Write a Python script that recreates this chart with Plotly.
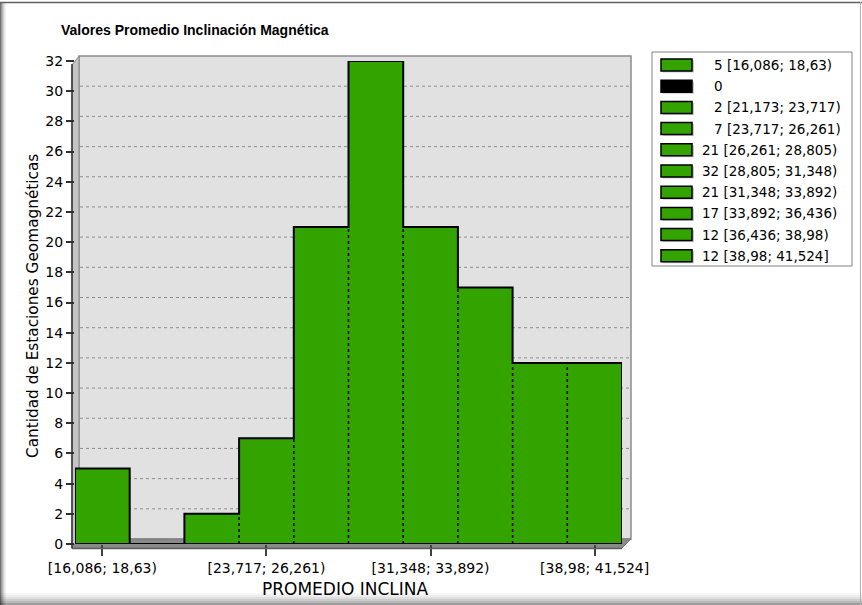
import plotly.graph_objects as go

# ---- data -------------------------------------------------------------
counts = [5, 0, 2, 7, 21, 32, 21, 17, 12, 12]
bin_labels = [
    "[16,086; 18,63)",
    "",
    "[21,173; 23,717)",
    "[23,717; 26,261)",
    "[26,261; 28,805)",
    "[28,805; 31,348)",
    "[31,348; 33,892)",
    "[33,892; 36,436)",
    "[36,436; 38,98)",
    "[38,98; 41,524]",
]
x_tick_bins = [0, 3, 6, 9]
x_tick_labels = ["[16,086; 18,63)", "[23,717; 26,261)", "[31,348; 33,892)", "[38,98; 41,524]"]
y_ticks = list(range(0, 33, 2))

title_text = "Valores Promedio Inclinación Magnética"
x_title = "PROMEDIO INCLINA"
y_title = "Cantidad de Estaciones Geomagnéticas"

# ---- styling ----------------------------------------------------------
W, H = 862, 605
PL, PR, PT, PB = 75, 622, 61, 544          # plot area in pixels
GREEN = "#33a300"
WALL = "#e1e1e1"
FONT = "DejaVu Sans, Verdana, sans-serif"
TITLE_FONT = "Liberation Sans, Arial, sans-serif"
Y_MAX = 32


def px(x):
    return (x - PL) / (PR - PL)


def py(y):
    return (PB - y) / (PB - PT)


n = len(counts)
centers = [i + 0.5 for i in range(n)]
colors = [GREEN if c > 0 else "black" for c in counts]

fig = go.Figure()

# bars (fill only; outlines drawn separately)
fig.add_trace(go.Bar(
    x=centers, y=counts, width=1,
    marker=dict(color=colors, line=dict(width=0)),
    hoverinfo="x+y", showlegend=False,
))

# histogram silhouette
sx, sy = [0], [0]
for i, c in enumerate(counts):
    sx += [i, i + 1]
    sy += [c, c]
sx += [n, 0]
sy += [0, 0]
fig.add_trace(go.Scatter(
    x=sx, y=sy, mode="lines", line=dict(color="black", width=2),
    hoverinfo="skip", showlegend=False, cliponaxis=False,
))

# dotted separators where neighbouring bars touch
dx, dy = [], []
for i in range(1, n):
    h = min(counts[i - 1], counts[i])
    if h > 0:
        dx += [i, i, None]
        dy += [0, h, None]
fig.add_trace(go.Scatter(
    x=dx, y=dy, mode="lines", line=dict(color="black", width=1.5, dash="dot"),
    hoverinfo="skip", showlegend=False,
))

shapes = []

# outer frame with soft shadow on left and bottom
for k, op in enumerate([0.55, 0.4, 0.28, 0.18, 0.1, 0.05]):
    shapes.append(dict(type="rect", xref="paper", yref="paper",
                       x0=px(k), x1=px(k + 1), y0=py(2), y1=py(605),
                       fillcolor="black", opacity=op, line=dict(width=0), layer="below"))
    shapes.append(dict(type="rect", xref="paper", yref="paper",
                       x0=px(0), x1=px(862), y0=py(605 - k * 2), y1=py(603 - k * 2),
                       fillcolor="black", opacity=op * 0.7, line=dict(width=0), layer="below"))
shapes.append(dict(type="line", xref="paper", yref="paper",
                   x0=px(0), x1=px(862), y0=py(2.5), y1=py(2.5),
                   line=dict(color="#606060", width=1.5), layer="below"))
shapes.append(dict(type="line", xref="paper", yref="paper",
                   x0=px(860.5), x1=px(860.5), y0=py(2), y1=py(605),
                   line=dict(color="#b0b0b0", width=1), layer="below"))

# back wall
WX0, WX1, WY0, WY1 = 79, 631, 539, 56
shapes.append(dict(type="rect", xref="paper", yref="paper",
                   x0=px(WX0), x1=px(WX1), y0=py(WY0), y1=py(WY1),
                   fillcolor=WALL, line=dict(color="#8c8c8c", width=1.5), layer="below"))
# side wall
shapes.append(dict(type="path", xref="paper", yref="paper",
                   path=f"M{px(72)},{py(548)} L{px(72)},{py(65)} L{px(WX0)},{py(WY1)} L{px(WX0)},{py(WY0)} Z",
                   fillcolor="#c4c4c4", line=dict(color="#8c8c8c", width=1), layer="below"))
# floor
shapes.append(dict(type="path", xref="paper", yref="paper",
                   path=f"M{px(72)},{py(548)} L{px(WX0)},{py(WY0)} L{px(WX1)},{py(WY0)} L{px(PR)},{py(548)} Z",
                   fillcolor="#8a8a8a", line=dict(color="#7a7a7a", width=1), layer="below"))

# wall gridlines (back plane, shifted by the depth offset)
for v in y_ticks[1:-1]:
    yy = py(PB - v * (PB - PT) / Y_MAX - 5)
    shapes.append(dict(type="line", xref="paper", yref="paper",
                       x0=px(WX0 + 1), x1=px(WX1 - 1), y0=yy, y1=yy,
                       line=dict(color="#8c8c8c", width=1, dash="dot"), layer="below"))

# front axis lines
shapes.append(dict(type="line", xref="paper", yref="paper",
                   x0=px(72), x1=px(72), y0=py(64), y1=py(548.5),
                   line=dict(color="#303030", width=1.5)))
shapes.append(dict(type="line", xref="paper", yref="paper",
                   x0=px(72), x1=px(PR), y0=py(548.5), y1=py(548.5),
                   line=dict(color="#606060", width=1.5)))

annotations = []

# legend box
LX0, LX1, LY0, LY1 = 652, 852, 52, 266
shapes.append(dict(type="rect", xref="paper", yref="paper",
                   x0=px(LX0), x1=px(LX1), y0=py(LY1), y1=py(LY0),
                   fillcolor="white", line=dict(color="#808080", width=1)))
ROW0, ROWSTEP = 65, 21.2
for i, c in enumerate(counts):
    cy = ROW0 + i * ROWSTEP
    shapes.append(dict(type="rect", xref="paper", yref="paper",
                       x0=px(663), x1=px(694), y0=py(cy + 7.5), y1=py(cy - 4.5),
                       fillcolor="#c8c8c8", line=dict(width=0)))
    shapes.append(dict(type="rect", xref="paper", yref="paper",
                       x0=px(661), x1=px(692), y0=py(cy + 6), y1=py(cy - 6),
                       fillcolor=colors[i], line=dict(color="black", width=1.5)))
    label = f"{c} {bin_labels[i]}".strip() if c > 0 else str(c)
    annotations.append(dict(
        x=px(712 if c < 10 else 700), y=py(cy), xref="paper", yref="paper",
        xanchor="left", yanchor="middle", showarrow=False, text=label,
        font=dict(family=FONT, size=13.5, color="black"),
    ))

# titles
annotations.append(dict(x=px(195), y=py(30), xref="paper", yref="paper",
                        xanchor="center", yanchor="middle", showarrow=False,
                        text=f"<b>{title_text}</b>",
                        font=dict(family=TITLE_FONT, size=14, color="black")))
annotations.append(dict(x=px(345), y=py(589), xref="paper", yref="paper",
                        xanchor="center", yanchor="middle", showarrow=False,
                        text=x_title, font=dict(family=FONT, size=17, color="black")))
annotations.append(dict(x=px(33), y=py(306), xref="paper", yref="paper",
                        xanchor="center", yanchor="middle", showarrow=False, textangle=-90,
                        text=y_title, font=dict(family=FONT, size=15.3, color="black")))

fig.update_layout(
    width=W, height=H,
    margin=dict(l=PL, r=W - PR, t=PT, b=H - PB, pad=0),
    paper_bgcolor="white", plot_bgcolor="rgba(0,0,0,0)",
    bargap=0, showlegend=False,
    shapes=shapes, annotations=annotations,
    font=dict(family=FONT, size=14, color="black"),
)
fig.update_xaxes(
    range=[0, n], showgrid=False, zeroline=False, showline=False,
    tickvals=[centers[i] for i in x_tick_bins], ticktext=x_tick_labels,
    ticks="outside", ticklen=11, tickwidth=1.5, tickcolor="#404040",
    tickfont=dict(family=FONT, size=14), fixedrange=True,
)
fig.update_yaxes(
    range=[0, Y_MAX], showgrid=False, zeroline=False, showline=False,
    tickvals=y_ticks, ticks="outside", ticklen=8, tickwidth=1.5, tickcolor="#303030",
    tickfont=dict(family=FONT, size=14), fixedrange=True,
)

fig.write_html("out.html")
